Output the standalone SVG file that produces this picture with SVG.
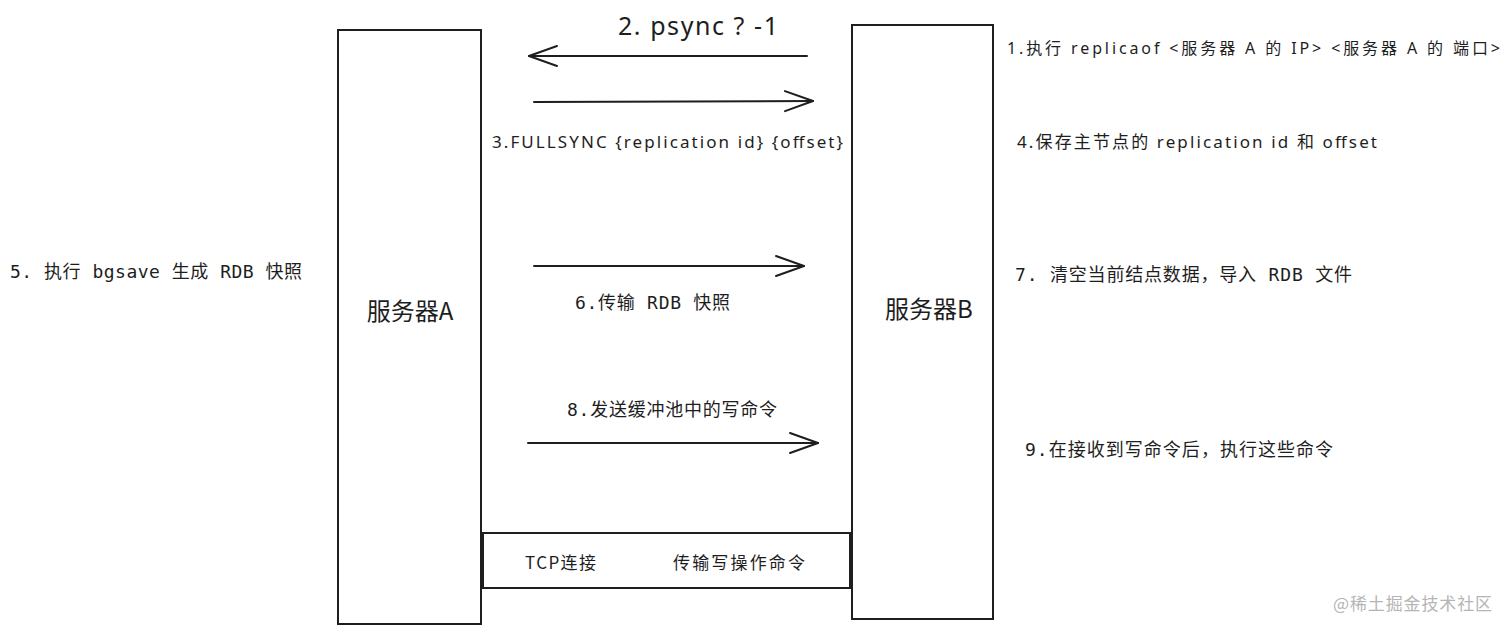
<svg xmlns="http://www.w3.org/2000/svg" width="1512" height="633" viewBox="0 0 1512 633">
<defs>
<style>
.box{fill:#fff;stroke:#1e1e1e;stroke-width:2}
.ln{fill:none;stroke:#1e1e1e;stroke-width:2;stroke-linecap:round}
.hand{font-family:"Noto Sans","Noto Sans CJK SC",sans-serif;fill:#1e1e1e}
.mono{font-family:"DejaVu Sans Mono","Noto Sans CJK SC",monospace;fill:#1e1e1e;font-size:18px}
.sans{font-family:"Noto Sans CJK SC","Noto Sans",sans-serif;fill:#1e1e1e}
</style>
<marker id="ah" markerUnits="userSpaceOnUse" markerWidth="32" markerHeight="26" refX="29" refY="12" orient="auto">
<path d="M1,2 L29,12 L1,22" fill="none" stroke="#1e1e1e" stroke-width="2" stroke-linecap="round" stroke-linejoin="round"/>
</marker>
</defs>
<rect width="1512" height="633" fill="#fff"/>

<g id="serverA">
<rect class="box" x="338" y="30" width="143" height="594"/>
<text class="sans" x="410" y="320" font-size="24" text-anchor="middle">服务器A</text>
</g>

<g id="serverB">
<rect class="box" x="852" y="25" width="141" height="594"/>
<text class="sans" x="929" y="318" font-size="24" text-anchor="middle">服务器B</text>
</g>

<g id="tcp">
<rect class="box" x="483" y="533" width="367" height="55"/>
<text class="sans" x="525" y="569" font-size="17" textLength="71">TCP连接</text>
<text class="sans" x="673" y="569" font-size="17" textLength="132">传输写操作命令</text>
</g>

<g id="connectors">
<line class="ln" x1="807" y1="56" x2="529" y2="56" marker-end="url(#ah)"/>
<line class="ln" x1="534" y1="102" x2="813" y2="101" marker-end="url(#ah)"/>
<line class="ln" x1="534" y1="266" x2="804" y2="266" marker-end="url(#ah)"/>
<line class="ln" x1="528" y1="443" x2="818" y2="443" marker-end="url(#ah)"/>
</g>

<g id="labels">
<text class="hand" x="618" y="35" font-size="25" textLength="160">2. psync ? -1</text>
<text class="hand" x="492" y="148" font-size="17" textLength="351">3.FULLSYNC {replication id} {offset}</text>
<text class="hand" x="1007" y="54" font-size="16" textLength="493">1.执行 replicaof &lt;服务器 A 的 IP&gt; &lt;服务器 A 的 端口&gt;</text>
<text class="hand" x="1017" y="148" font-size="17" textLength="360">4.保存主节点的 replication id 和 offset</text>
<text class="mono" x="10" y="278" textLength="292">5. 执行 bgsave 生成 RDB 快照</text>
<text class="mono" x="575" y="309" textLength="155">6.传输 RDB 快照</text>
<text class="mono" x="567" y="416" textLength="210">8.发送缓冲池中的写命令</text>
<text class="mono" x="1015" y="281" textLength="337">7. 清空当前结点数据，导入 RDB 文件</text>
<text class="mono" x="1025" y="456" textLength="308">9.在接收到写命令后，执行这些命令</text>
</g>

<text class="sans" x="1333" y="610" font-size="17" style="fill:#b5b5b5" textLength="159">@稀土掘金技术社区</text>
</svg>
